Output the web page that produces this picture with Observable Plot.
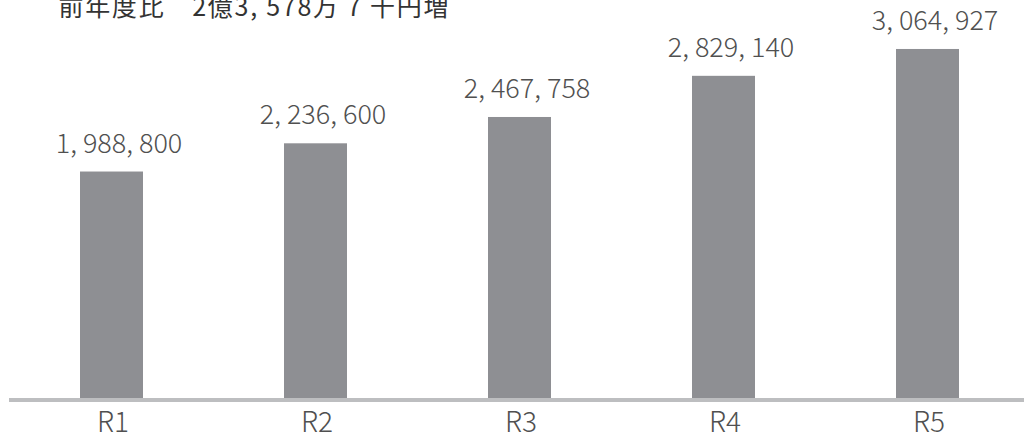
<!DOCTYPE html>
<html>
<head>
<meta charset="utf-8">
<script src="https://cdn.jsdelivr.net/npm/d3@7"></script>
<script src="https://cdn.jsdelivr.net/npm/@observablehq/plot@0.6"></script>
<style>
  html, body { margin: 0; padding: 0; background: #fff; }
  #chart svg { display: block; }
</style>
</head>
<body>
<div id="chart"></div>
<script>
const categories = ["R1", "R2", "R3", "R4", "R5"];
const values = [1988800, 2236600, 2467758, 2829140, 3064927];
const titleText = "前年度比　2億3, 578万 7 千円増";

const data = categories.map((c, i) => ({ cat: c, value: values[i] }));
const fmt = v => d3.format(",")(v).replace(/,/g, ", ");
const font = "'Noto Sans CJK JP', 'Noto Sans', sans-serif";

const chart = Plot.plot({
  width: 1024,
  height: 442,
  marginTop: 0,
  marginBottom: 44,
  marginLeft: 9,
  marginRight: 0,
  style: { fontFamily: font, background: "#fff" },
  x: { domain: categories, range: [9.5, 1029.5], paddingInner: 0.69, paddingOuter: 0.345, axis: null },
  y: { domain: [0, 3495000], axis: null },
  marks: [
    Plot.barY(data, { x: "cat", y: "value", fill: "#8e8f93" }),
    Plot.ruleY([0], { stroke: "#bdbec0", strokeWidth: 4, dy: 1.5 }),
    Plot.text(data, { x: "cat", y: "value", text: d => fmt(d.value), dx: 7, dy: -28, lineAnchor: "middle", fontSize: 27, fontWeight: 300, fill: "#505050" }),
    Plot.text(data, { x: "cat", y: 0, text: "cat", dx: 1, dy: 25, lineAnchor: "middle", fontSize: 28, fontWeight: 300, fill: "#505050" }),
    Plot.text([titleText], { frameAnchor: "top-left", dx: 49, dy: 7, text: d => d, textAnchor: "start", lineAnchor: "middle", fontSize: 25, fill: "#333", className: "ttl" })
  ]
});
d3.select(chart).selectAll(".ttl text").attr("textLength", 390).attr("lengthAdjust", "spacing");
document.getElementById("chart").appendChild(chart);
</script>
</body>
</html>
